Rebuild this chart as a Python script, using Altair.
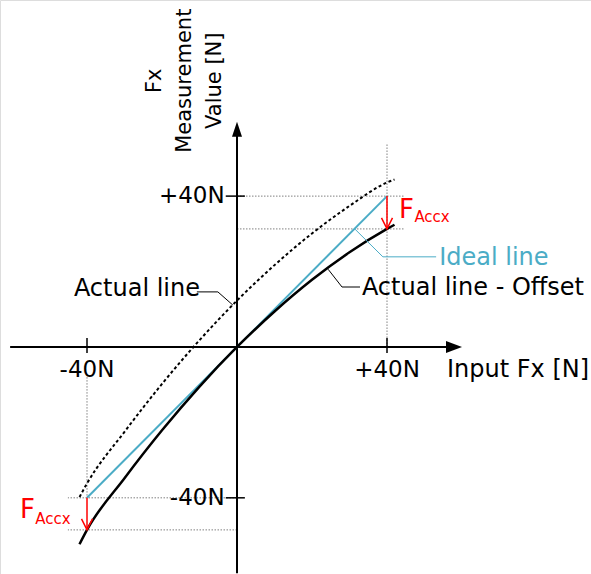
import altair as alt
import pandas as pd

# ---- data -----------------------------------------------------------------
# Input force Fx [N] at which the curves are sampled
x_pts = [-42, -40, -30, -20, -10, 0, 10, 20, 30, 40, 42]
# Measured value with the zero offset removed (solid black)
actual_minus_offset = [-52.3, -48.5, -34.8, -22.1, -10.5, 0.0, 9.4, 17.8, 25.1, 31.3, 32.4]
# Raw measured value (dotted black)
actual = [-39.8, -36.2, -22.5, -9.8, 1.8, 12.3, 21.7, 30.1, 37.4, 43.6, 44.4]
# Ideal 1:1 response (blue)
ideal_x = [-40, 40]
ideal_y = [-40, 40]
# Axis ticks
tick_values = [-40, 40]
x_tick_labels = ["-40N", "+40N"]
y_tick_labels = ["-40N", "+40N"]
# Measured value at the ±40 N ticks (end of the F_Accx error arrows)
measured_at_ticks = [-48.5, 31.3]

FONT = "DejaVu Sans"
BLUE = "#4BACC6"
RED = "#FF0000"
GUIDE = "#808080"

X = alt.Scale(domain=[-63.2, 94.4])
Y = alt.Scale(domain=[-60.2, 92.0])


def xe(field="x"):
    return alt.X(field, type="quantitative", scale=X, axis=None)


def ye(field="y"):
    return alt.Y(field, type="quantitative", scale=Y, axis=None)


def seg_rule(df, **style):
    return alt.Chart(df).mark_rule(**style).encode(
        x=xe("x"), x2="x2", y=ye("y"), y2="y2"
    )


layers = []

# ---- dotted guide lines to the ideal and measured values ------------------
guides = []
for tv, mv in zip(tick_values, measured_at_ticks):
    x_far = 44.8 if tv > 0 else -45.1
    guides.append(dict(x=0, x2=x_far, y=tv, y2=tv))
    guides.append(dict(x=0, x2=x_far, y=mv, y2=mv))
guides.append(dict(x=40, x2=40, y=0, y2=54.1))
guides.append(dict(x=-40, x2=-40, y=-8.0, y2=-40))
layers.append(
    seg_rule(pd.DataFrame(guides), color=GUIDE, strokeWidth=1, strokeDash=[1.5, 1.5])
)

# ---- axes ------------------------------------------------------------------
axes = pd.DataFrame([
    dict(x=-60.5, x2=57.0, y=0, y2=0),
    dict(x=0, x2=0, y=-60.0, y2=56.0),
])
layers.append(seg_rule(axes, color="black", strokeWidth=2))

xticks = pd.DataFrame(dict(x=tick_values, x2=tick_values, y=[-1.6] * 2, y2=[2.4] * 2))
yticks = pd.DataFrame(dict(x=[-3.0] * 2, x2=[2.1] * 2, y=tick_values, y2=tick_values))
layers.append(seg_rule(xticks, color="black", strokeWidth=1.5))
layers.append(seg_rule(yticks, color="black", strokeWidth=1.5))

heads = pd.DataFrame([
    dict(x=60.0, y=0, shape="M 0 0 L -3.2 -1.2 L -3.2 1.2 Z"),
    dict(x=0, y=59.7, shape="M 0 0 L -1.0 3.0 L 1.0 3.0 Z"),
])
layers.append(
    alt.Chart(heads).mark_point(filled=True, size=100, opacity=1, color="black", strokeWidth=0)
    .encode(x=xe(), y=ye(), shape=alt.Shape("shape:N", scale=None, legend=None))
)

# ---- curves ----------------------------------------------------------------
curves = pd.DataFrame(dict(x=x_pts, y=actual_minus_offset))
raw = pd.DataFrame(dict(x=x_pts, y=actual))
ideal = pd.DataFrame(dict(x=ideal_x, y=ideal_y))
layers.append(
    alt.Chart(raw).mark_line(color="black", strokeWidth=2, strokeDash=[3, 2.5], interpolate="monotone")
    .encode(x=xe(), y=ye(), order="x")
)
layers.append(
    alt.Chart(ideal).mark_line(color=BLUE, strokeWidth=2).encode(x=xe(), y=ye())
)
layers.append(
    alt.Chart(curves).mark_line(color="black", strokeWidth=2.5, interpolate="monotone")
    .encode(x=xe(), y=ye(), order="x")
)

# ---- leader lines to the curve labels -------------------------------------
leaders = pd.DataFrame([
    dict(g="raw", i=0, x=-10.7, y=14.6, c="black"),
    dict(g="raw", i=1, x=-5.1, y=14.6, c="black"),
    dict(g="raw", i=2, x=-1.1, y=11.1, c="black"),
    dict(g="off", i=0, x=32.8, y=15.9, c="black"),
    dict(g="off", i=1, x=28.0, y=15.9, c="black"),
    dict(g="off", i=2, x=24.3, y=20.6, c="black"),
    dict(g="ideal", i=0, x=53.1, y=23.9, c=BLUE),
    dict(g="ideal", i=1, x=38.9, y=23.9, c=BLUE),
    dict(g="ideal", i=2, x=31.5, y=31.2, c=BLUE),
])
layers.append(
    alt.Chart(leaders).mark_line(strokeWidth=1)
    .encode(x=xe(), y=ye(), detail="g:N", order="i:Q",
            color=alt.Color("c:N", scale=None))
)

# ---- F_Accx error arrows ---------------------------------------------------
err = pd.DataFrame(dict(x=tick_values, x2=tick_values, y=tick_values, y2=measured_at_ticks))
layers.append(seg_rule(err, color=RED, strokeWidth=1.5))
err_heads = pd.DataFrame(dict(x=tick_values, y=measured_at_ticks))
layers.append(
    alt.Chart(err_heads).mark_point(
        shape="M -1.1 -2.2 L 0 0 L 1.1 -2.2", size=100, filled=False,
        opacity=1, color=RED, strokeWidth=1.5,
    ).encode(x=xe(), y=ye())
)

# ---- text ------------------------------------------------------------------
def text(df, **style):
    base = dict(font=FONT, fontSize=24, color="black")
    base.update(style)
    return alt.Chart(df).mark_text(**base).encode(x=xe(), y=ye(), text="t:N")


# tick labels
layers.append(text(pd.DataFrame(dict(x=tick_values, y=[-7.9] * 2, t=x_tick_labels)),
                   align="center", baseline="alphabetic", fontSize=23))
layers.append(text(pd.DataFrame(dict(x=[-3.3] * 2, y=tick_values, t=y_tick_labels)),
                   align="right", baseline="middle", fontSize=23))

# axis titles
layers.append(text(pd.DataFrame(dict(x=[56.0], y=[-7.9], t=["Input Fx [N]"])),
                   align="left", baseline="alphabetic"))
layers.append(text(pd.DataFrame(dict(x=[-21.9, -13.9, -5.9], y=[70.6] * 3,
                                     t=["Fx", "Measurement", "Value [N]"])),
                   align="center", baseline="middle", angle=270, fontSize=21))

# curve labels
layers.append(text(pd.DataFrame(dict(x=[-43.5], y=[13.5], t=["Actual line"])),
                   align="left", baseline="alphabetic"))
layers.append(text(pd.DataFrame(dict(x=[33.3], y=[13.8], t=["Actual line - Offset"])),
                   align="left", baseline="alphabetic"))
layers.append(text(pd.DataFrame(dict(x=[53.9], y=[21.8], t=["Ideal line"])),
                   align="left", baseline="alphabetic", color=BLUE))

# F_Accx labels (F with subscript)
layers.append(text(pd.DataFrame(dict(x=[43.2, -57.9], y=[34.2, -45.4], t=["F", "F"])),
                   align="left", baseline="alphabetic", color=RED, fontSize=26))
layers.append(text(pd.DataFrame(dict(x=[47.3, -53.8], y=[33.2, -46.9], t=["Accx", "Accx"])),
                   align="left", baseline="alphabetic", color=RED, fontSize=15))

chart = alt.layer(*layers).properties(
    width=591, height=574, autosize=alt.AutoSizeParams(type="none"), padding=0
).configure_view(stroke=None).configure(background="white")

chart.save("out.html", embed_options={"renderer": "svg", "actions": False})
